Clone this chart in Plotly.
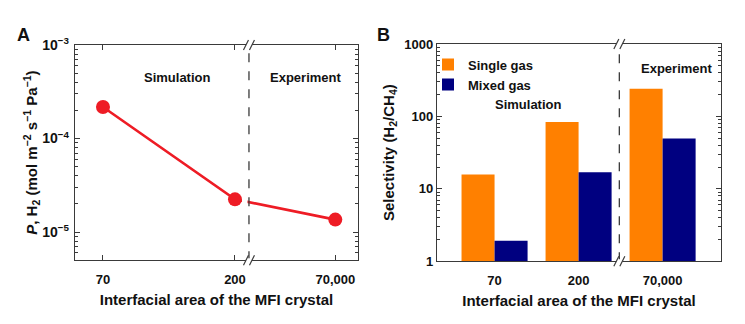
import plotly.graph_objects as go

# ---------------- data ----------------
areas = ["70", "200", "70,000"]                 # interfacial area categories
permeance_h2 = [2.17e-4, 2.24e-5, 1.36e-5]      # panel A, mol m-2 s-1 Pa-1
single_gas = [15.8, 84.0, 241.0]                # panel B, H2/CH4 selectivity
mixed_gas = [1.92, 17.0, 49.5]
region_labels = ["Simulation", "Experiment"]
y_ticks_a = [1e-5, 1e-4, 1e-3]
y_ticktext_a = ["10<sup>\u22125</sup>", "10<sup>\u22124</sup>", "10<sup>\u22123</sup>"]
y_ticks_b = [1, 10, 100, 1000]
y_ticktext_b = ["1", "10", "100", "1000"]

# ---------------- layout / style ----------------
FONT = "Liberation Sans, Arial, Helvetica, sans-serif"
AX = "#3a3a3a"
W, H = 745, 324

# broken-axis slots for panel A (layout, not data)
slot_a = {"70": 0.0, "200": 1.0, "70,000": 1.76}
break_a = 1.106
break_b = 1.485

def px_x(p):
    return p / W

def px_y(p):
    return 1 - p / H

dom_a_x = [px_x(75), px_x(358)]
dom_a_y = [px_y(265), px_y(37)]
dom_b_x = [px_x(437), px_x(721)]
dom_b_y = [px_y(266), px_y(36)]

fig = go.Figure()

fig.add_trace(go.Scatter(
    x=[slot_a[a] for a in areas], y=permeance_h2,
    mode="lines+markers",
    line=dict(color="#EE1C25", width=2.6),
    marker=dict(color="#EE1C25", size=14),
    showlegend=False, xaxis="x", yaxis="y", cliponaxis=False,
))

fig.add_trace(go.Bar(
    x=areas, y=single_gas, name="Single gas",
    marker=dict(color="#FF8000", line=dict(width=0)),
    xaxis="x2", yaxis="y2",
))
fig.add_trace(go.Bar(
    x=areas, y=mixed_gas, name="Mixed gas",
    marker=dict(color="#000080", line=dict(width=0)),
    xaxis="x2", yaxis="y2",
))

tickfont = dict(family=FONT, size=13, color="#111", weight="bold")
tickfont_ya = dict(family=FONT, size=14, color="#111", weight="bold")
titlefont = dict(family=FONT, size=15, color="#111", weight="bold")

def minor_vals(lo, hi):
    return [k * 10 ** e for e in range(lo, hi) for k in range(2, 10)]

common_line = dict(showline=True, linecolor=AX, linewidth=1.4, mirror="allticks",
                   showgrid=False, zeroline=False, tickcolor=AX, tickwidth=1.2)

fig.update_layout(
    width=W, height=H,
    margin=dict(l=0, r=0, t=0, b=0),
    paper_bgcolor="white", plot_bgcolor="white",
    font=dict(family=FONT, color="#111"),
    barmode="group", bargap=0.214, bargroupgap=0,
    xaxis=dict(
        domain=dom_a_x, anchor="y", range=[-0.212, 1.932],
        tickmode="array", tickvals=[slot_a[a] for a in areas], ticktext=areas,
        ticks="inside", ticklen=5, tickfont=tickfont, ticklabelstandoff=7,
        title=dict(text="Interfacial area of the MFI crystal", font=titlefont, standoff=8),
        **common_line,
    ),
    yaxis=dict(
        domain=dom_a_y, anchor="x", type="log",
        range=[-5.301, -3],
        tickmode="array", tickvals=y_ticks_a, ticktext=y_ticktext_a,
        ticks="inside", ticklen=5, tickfont=tickfont_ya, ticklabelstandoff=2,
        minor=dict(tickmode="array", tickvals=minor_vals(-6, -3), ticks="inside",
                   ticklen=3, tickcolor=AX, showgrid=False),
        title=dict(text="<i>P</i>, H<sub>2</sub> (mol m<sup>\u22122</sup> s<sup>\u22121</sup> Pa<sup>\u22121</sup>)",
                   font=titlefont, standoff=0),
        **common_line,
    ),
    xaxis2=dict(
        domain=dom_b_x, anchor="y2", type="category",
        categoryorder="array", categoryarray=areas,
        range=[-0.685, 2.695], ticks="", tickfont=tickfont, ticklabelstandoff=7,
        title=dict(text="Interfacial area of the MFI crystal", font=titlefont, standoff=8),
        **common_line,
    ),
    yaxis2=dict(
        domain=dom_b_y, anchor="x2", type="log", range=[0, 3],
        tickmode="array", tickvals=y_ticks_b, ticktext=y_ticktext_b,
        ticks="inside", ticklen=5, tickfont=tickfont,
        minor=dict(tickmode="array", tickvals=minor_vals(0, 3), ticks="inside",
                   ticklen=3, tickcolor=AX, showgrid=False),
        title=dict(text="Selectivity (H<sub>2</sub>/CH<sub>4</sub>)", font=titlefont, standoff=6),
        **common_line,
    ),
    legend=dict(x=px_x(428), y=px_y(42), xanchor="left", yanchor="top",
                bgcolor="rgba(0,0,0,0)", font=dict(family=FONT, size=13, color="#111", weight="bold"),
                tracegroupgap=0, itemclick=False),
)

shapes = []
for xr, br in (("x", break_a), ("x2", break_b)):
    yr = "y domain" if xr == "x" else "y2 domain"
    # dashed separator
    shapes.append(dict(type="line", xref=xr, yref=yr, x0=br, x1=br, y0=0, y1=1,
                       line=dict(color=AX, width=1.3, dash="dash"), layer="above"))
    for yy in (0, 1):
        # gap in the axis line
        shapes.append(dict(type="rect", xref=xr, yref=yr, xsizemode="pixel", ysizemode="pixel",
                           xanchor=br, yanchor=yy, x0=-3, x1=3, y0=-2, y1=2,
                           fillcolor="white", line=dict(width=0), layer="above"))
        for off in (-3, 3):
            shapes.append(dict(type="line", xref=xr, yref=yr, xsizemode="pixel", ysizemode="pixel",
                               xanchor=br, yanchor=yy, x0=off - 2.5, x1=off + 2.5, y0=-5, y1=5,
                               line=dict(color=AX, width=1.2), layer="above"))
# small gap in the red line just left of the break (panel A)
shapes.append(dict(type="rect", xref="x", yref="y domain", xsizemode="pixel",
                   xanchor=break_a, x0=-7, x1=-1.5, y0=0.05, y1=0.95,
                   fillcolor="white", line=dict(width=0), layer="above"))
fig.update_layout(shapes=shapes)

annfont = dict(family=FONT, size=13, color="#111", weight="bold")
anns = [
    dict(text=region_labels[0], x=px_x(177), y=px_y(71)),
    dict(text=region_labels[1], x=px_x(305), y=px_y(71)),
    dict(text=region_labels[0], x=px_x(528), y=px_y(100)),
    dict(text=region_labels[1], x=px_x(676), y=px_y(62)),
    dict(text="A", x=px_x(23), y=px_y(26), font=dict(family=FONT, size=18, color="#111", weight="bold")),
    dict(text="B", x=px_x(383), y=px_y(26), font=dict(family=FONT, size=18, color="#111", weight="bold")),
]
for a in anns:
    a.setdefault("font", annfont)
    fig.add_annotation(xref="paper", yref="paper", showarrow=False,
                       xanchor="center", yanchor="middle", **a)

fig.write_html("out.html")
